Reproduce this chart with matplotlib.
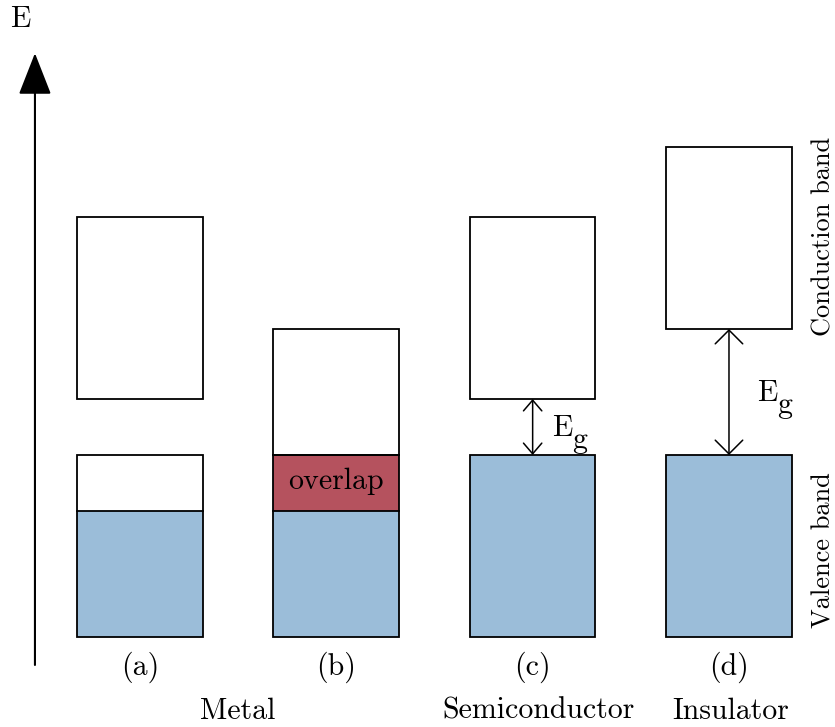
import matplotlib
matplotlib.use("Agg")
import matplotlib.pyplot as plt
from matplotlib.patches import Rectangle

plt.rcParams['font.family'] = 'serif'
plt.rcParams['font.serif'] = ['cmr10']
plt.rcParams['mathtext.fontset'] = 'cm'
plt.rcParams['axes.unicode_minus'] = False

# band diagram data (energies in arbitrary units, valence bottom = 0)
panels = ['(a)', '(b)', '(c)', '(d)']
val_bottom = [0, 0, 0, 0]
val_top = [13, 13, 13, 13]
filled_top = [9, 9, 13, 13]        # top of occupied (blue) states
overlap = [None, (9, 13), None, None]
cond_bottom = [17, 13, 17, 22]
cond_top = [30, 22, 30, 35]
gap_panels = [2, 3]                # panels with a band gap arrow
groups = ['Metal', 'Semiconductor', 'Insulator']
group_x = [0.5, 2.03, 3.01]

blue = '#9bbdd9'
red = '#b5525e'
w = 0.64
fs = 21.5

fig = plt.figure(figsize=(8.35, 7.27), dpi=100)
ax = fig.add_axes([0, 0, 1, 1])
ax.set_xlim(-0.713, 3.54)
ax.set_ylim(-6.43, 45.5)
ax.axis('off')

for i in range(len(panels)):
    x0 = i - w / 2
    # occupied part of valence band
    ax.add_patch(Rectangle((x0, val_bottom[i]), w, filled_top[i] - val_bottom[i],
                           facecolor=blue, edgecolor='none'))
    if overlap[i] is not None:
        lo, hi = overlap[i]
        ax.add_patch(Rectangle((x0, lo), w, hi - lo, facecolor=red, edgecolor='none'))
        ax.plot([x0, x0 + w], [hi, hi], color='black', lw=1.3)
        ax.text(i, (lo + hi) / 2 + 0.1, 'overlap', ha='center', va='center', fontsize=fs)
    if filled_top[i] < val_top[i]:
        ax.plot([x0, x0 + w], [filled_top[i], filled_top[i]], color='black', lw=1.3)
    ax.add_patch(Rectangle((x0, val_bottom[i]), w, val_top[i] - val_bottom[i],
                           facecolor='none', edgecolor='black', lw=1.3))
    # conduction band
    ax.add_patch(Rectangle((x0, cond_bottom[i]), w, cond_top[i] - cond_bottom[i],
                           facecolor='white', edgecolor='black', lw=1.3))
    ax.text(i, -2.15, panels[i], ha='center', va='center', fontsize=fs)

for i in gap_panels:
    big = cond_bottom[i] - val_top[i] > 5
    hl, hw = (0.45, 0.45) if big else (0.35, 0.3)
    ax.annotate('', xy=(i, cond_bottom[i]), xytext=(i, val_top[i]),
                arrowprops=dict(arrowstyle='<->,head_length=%g,head_width=%g' % (hl, hw),
                                lw=1.1, color='black', mutation_scale=22,
                                shrinkA=0, shrinkB=0))
    ym = (cond_bottom[i] + val_top[i]) / 2
    tx = i + 0.099 if not big else i + 0.143
    t = ax.text(tx, ym - 0.64, 'E', ha='left', va='baseline', fontsize=fs)
    ax.annotate('g', xy=(1, 0), xycoords=t, xytext=(0, -4.3), textcoords='offset points',
                ha='left', va='baseline', fontsize=fs)

for name, gx in zip(groups, group_x):
    ax.text(gx, -5.3, name, ha='center', va='center', fontsize=fs)

# energy axis
ax.annotate('', xy=(-0.535, 41.7), xytext=(-0.535, -2),
            arrowprops=dict(arrowstyle='-|>,head_length=1.2,head_width=0.47', lw=1.5,
                            color='black', mutation_scale=22, shrinkA=0, shrinkB=0))
ax.text(-0.61, 44.1, 'E', ha='center', va='center', fontsize=fs)

ax.text(3.48, 28.6, 'Conduction band', rotation=90, ha='center', va='center', fontsize=19)
ax.text(3.48, 6.2, 'Valence band', rotation=90, ha='center', va='center', fontsize=19)

fig.savefig('out.png', dpi=100)
